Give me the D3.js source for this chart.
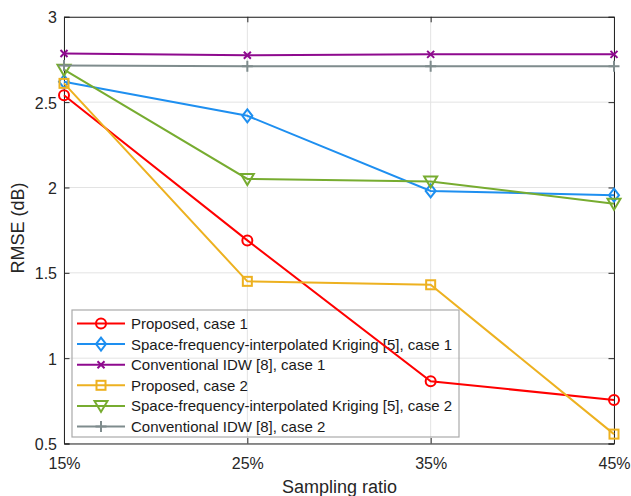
<!DOCTYPE html>
<html>
<head>
<meta charset="utf-8">
<script src="https://cdn.jsdelivr.net/npm/d3@7"></script>
<style>
  html, body { margin: 0; padding: 0; background: #fff; }
  svg { display: block; font-family: "Liberation Sans", Arial, Helvetica, sans-serif; }
</style>
</head>
<body>
<svg id="chart" width="631" height="496"></svg>
<script>
// Sampling ratios on the x axis
const ratios = ["15%", "25%", "35%", "45%"];
const yTicks = [0.5, 1, 1.5, 2, 2.5, 3];

// RMSE (dB) per method
const proposedCase1 = [2.54, 1.69, 0.865, 0.755];
const krigingCase1  = [2.62, 2.42, 1.98, 1.955];
const idwCase1      = [2.785, 2.775, 2.78, 2.78];
const proposedCase2 = [2.61, 1.45, 1.43, 0.555];
const krigingCase2  = [2.69, 2.05, 2.035, 1.905];
const idwCase2      = [2.715, 2.71, 2.71, 2.71];

const seriesNames = [
  "Proposed, case 1",
  "Space-frequency-interpolated Kriging [5], case 1",
  "Conventional IDW [8], case 1",
  "Proposed, case 2",
  "Space-frequency-interpolated Kriging [5], case 2",
  "Conventional IDW [8], case 2"
];

const series = [
  { name: seriesNames[0], values: proposedCase1, color: "#ff0000", marker: "circle" },
  { name: seriesNames[1], values: krigingCase1,  color: "#1e8ff0", marker: "diamond" },
  { name: seriesNames[2], values: idwCase1,      color: "#8e0a8e", marker: "x" },
  { name: seriesNames[3], values: proposedCase2, color: "#edb120", marker: "square" },
  { name: seriesNames[4], values: krigingCase2,  color: "#77ac30", marker: "triangle" },
  { name: seriesNames[5], values: idwCase2,      color: "#7f8c8d", marker: "plus" }
];

const svg = d3.select("#chart");
const plotLeft = 64, plotRight = 614, plotTop = 16.8, plotBottom = 443.5;

const x = d3.scalePoint().domain(ratios).range([plotLeft, plotRight]);
const y = d3.scaleLinear().domain([0.5, 3]).range([plotBottom, plotTop]);

const axisColor = "#262626";
const gridColor = "#e3e3e3";

// grid
const grid = svg.append("g");
grid.selectAll("line.h").data(yTicks).enter().append("line")
  .attr("x1", plotLeft).attr("x2", plotRight)
  .attr("y1", d => y(d)).attr("y2", d => y(d))
  .attr("stroke", gridColor).attr("stroke-width", 1);
grid.selectAll("line.v").data(ratios).enter().append("line")
  .attr("y1", plotTop).attr("y2", plotBottom)
  .attr("x1", d => x(d)).attr("x2", d => x(d))
  .attr("stroke", gridColor).attr("stroke-width", 1);

// axes (box with inward ticks on all four sides)
const tickLen = 5.5;
const yAxis = d3.axisLeft(y).tickValues(yTicks).tickSize(-tickLen).tickPadding(7)
  .tickFormat(d3.format("~g"));
const xAxis = d3.axisBottom(x).tickSize(-tickLen).tickPadding(14);

const gy = svg.append("g").attr("transform", `translate(${plotLeft},0)`).call(yAxis);
const gx = svg.append("g").attr("transform", `translate(0,${plotBottom})`).call(xAxis);
const gyR = svg.append("g").attr("transform", `translate(${plotRight},0)`)
  .call(d3.axisRight(y).tickValues(yTicks).tickSize(-tickLen).tickFormat(""));
const gxT = svg.append("g").attr("transform", `translate(0,${plotTop})`)
  .call(d3.axisTop(x).tickSize(-tickLen).tickFormat(""));

[gy, gx, gyR, gxT].forEach(g => {
  g.select(".domain").attr("stroke", axisColor).attr("stroke-width", 1);
  g.selectAll(".tick line").attr("stroke", axisColor);
  g.selectAll(".tick text").attr("fill", axisColor)
    .style("font-size", "16px").style("font-family", "Liberation Sans, Arial, sans-serif");
});
gy.selectAll(".tick text").attr("dy", "0.38em");

// axis titles
svg.append("text").attr("x", (plotLeft + plotRight) / 2 + 0.5).attr("y", 493)
  .attr("text-anchor", "middle").attr("fill", axisColor)
  .style("font-size", "18px").text("Sampling ratio");
svg.append("text").attr("transform", "translate(24,228) rotate(-90)")
  .attr("text-anchor", "middle").attr("fill", axisColor)
  .style("font-size", "18px").text("RMSE (dB)");

// marker drawing
function drawMarker(g, type, cx, cy, color) {
  const s = 5;
  if (type === "circle") {
    g.append("circle").attr("cx", cx).attr("cy", cy).attr("r", s)
      .attr("fill", "none").attr("stroke", color).attr("stroke-width", 2);
  } else if (type === "diamond") {
    g.append("path").attr("d", `M${cx},${cy - 6.5}L${cx + 5},${cy}L${cx},${cy + 6.5}L${cx - 5},${cy}Z`)
      .attr("fill", "none").attr("stroke", color).attr("stroke-width", 2);
  } else if (type === "square") {
    g.append("rect").attr("x", cx - 4.5).attr("y", cy - 4.5).attr("width", 9).attr("height", 9)
      .attr("fill", "none").attr("stroke", color).attr("stroke-width", 2);
  } else if (type === "triangle") {
    g.append("path").attr("d", `M${cx - 6.5},${cy - 5}L${cx + 6.5},${cy - 5}L${cx},${cy + 6}Z`)
      .attr("fill", "none").attr("stroke", color).attr("stroke-width", 2);
  } else if (type === "x") {
    const a = 3.5;
    g.append("path").attr("d", `M${cx - a},${cy - a}L${cx + a},${cy + a}M${cx - a},${cy + a}L${cx + a},${cy - a}`)
      .attr("stroke", color).attr("stroke-width", 2);
  } else if (type === "plus") {
    const a = 5.5;
    g.append("path").attr("d", `M${cx - a},${cy}L${cx + a},${cy}M${cx},${cy - a}L${cx},${cy + a}`)
      .attr("stroke", color).attr("stroke-width", 2);
  }
}

// legend (unfilled box, so grid and data lines show through)
const lg = svg.append("g");
lg.append("rect").attr("x", 72).attr("y", 310).attr("width", 387).attr("height", 127)
  .attr("fill", "none").attr("stroke", "#aaaaaa").attr("stroke-width", 1.2);
series.forEach((s, i) => {
  const ly = 323.5 + i * 20.6;
  lg.append("line").attr("x1", 77).attr("x2", 125).attr("y1", ly).attr("y2", ly)
    .attr("stroke", s.color).attr("stroke-width", 2);
  drawMarker(lg, s.marker, 101, ly, s.color);
  lg.append("text").attr("x", 131).attr("y", ly).attr("dy", "0.36em")
    .attr("fill", "#1a1a1a").style("font-size", "15px").text(s.name);
});

// series lines and markers
const line = d3.line().x((d, i) => x(ratios[i])).y(d => y(d));
series.forEach(s => {
  const g = svg.append("g");
  g.append("path").datum(s.values).attr("d", line)
    .attr("fill", "none").attr("stroke", s.color).attr("stroke-width", 2);
  s.values.forEach((v, i) => drawMarker(g, s.marker, x(ratios[i]), y(v), s.color));
});
</script>
</body>
</html>
